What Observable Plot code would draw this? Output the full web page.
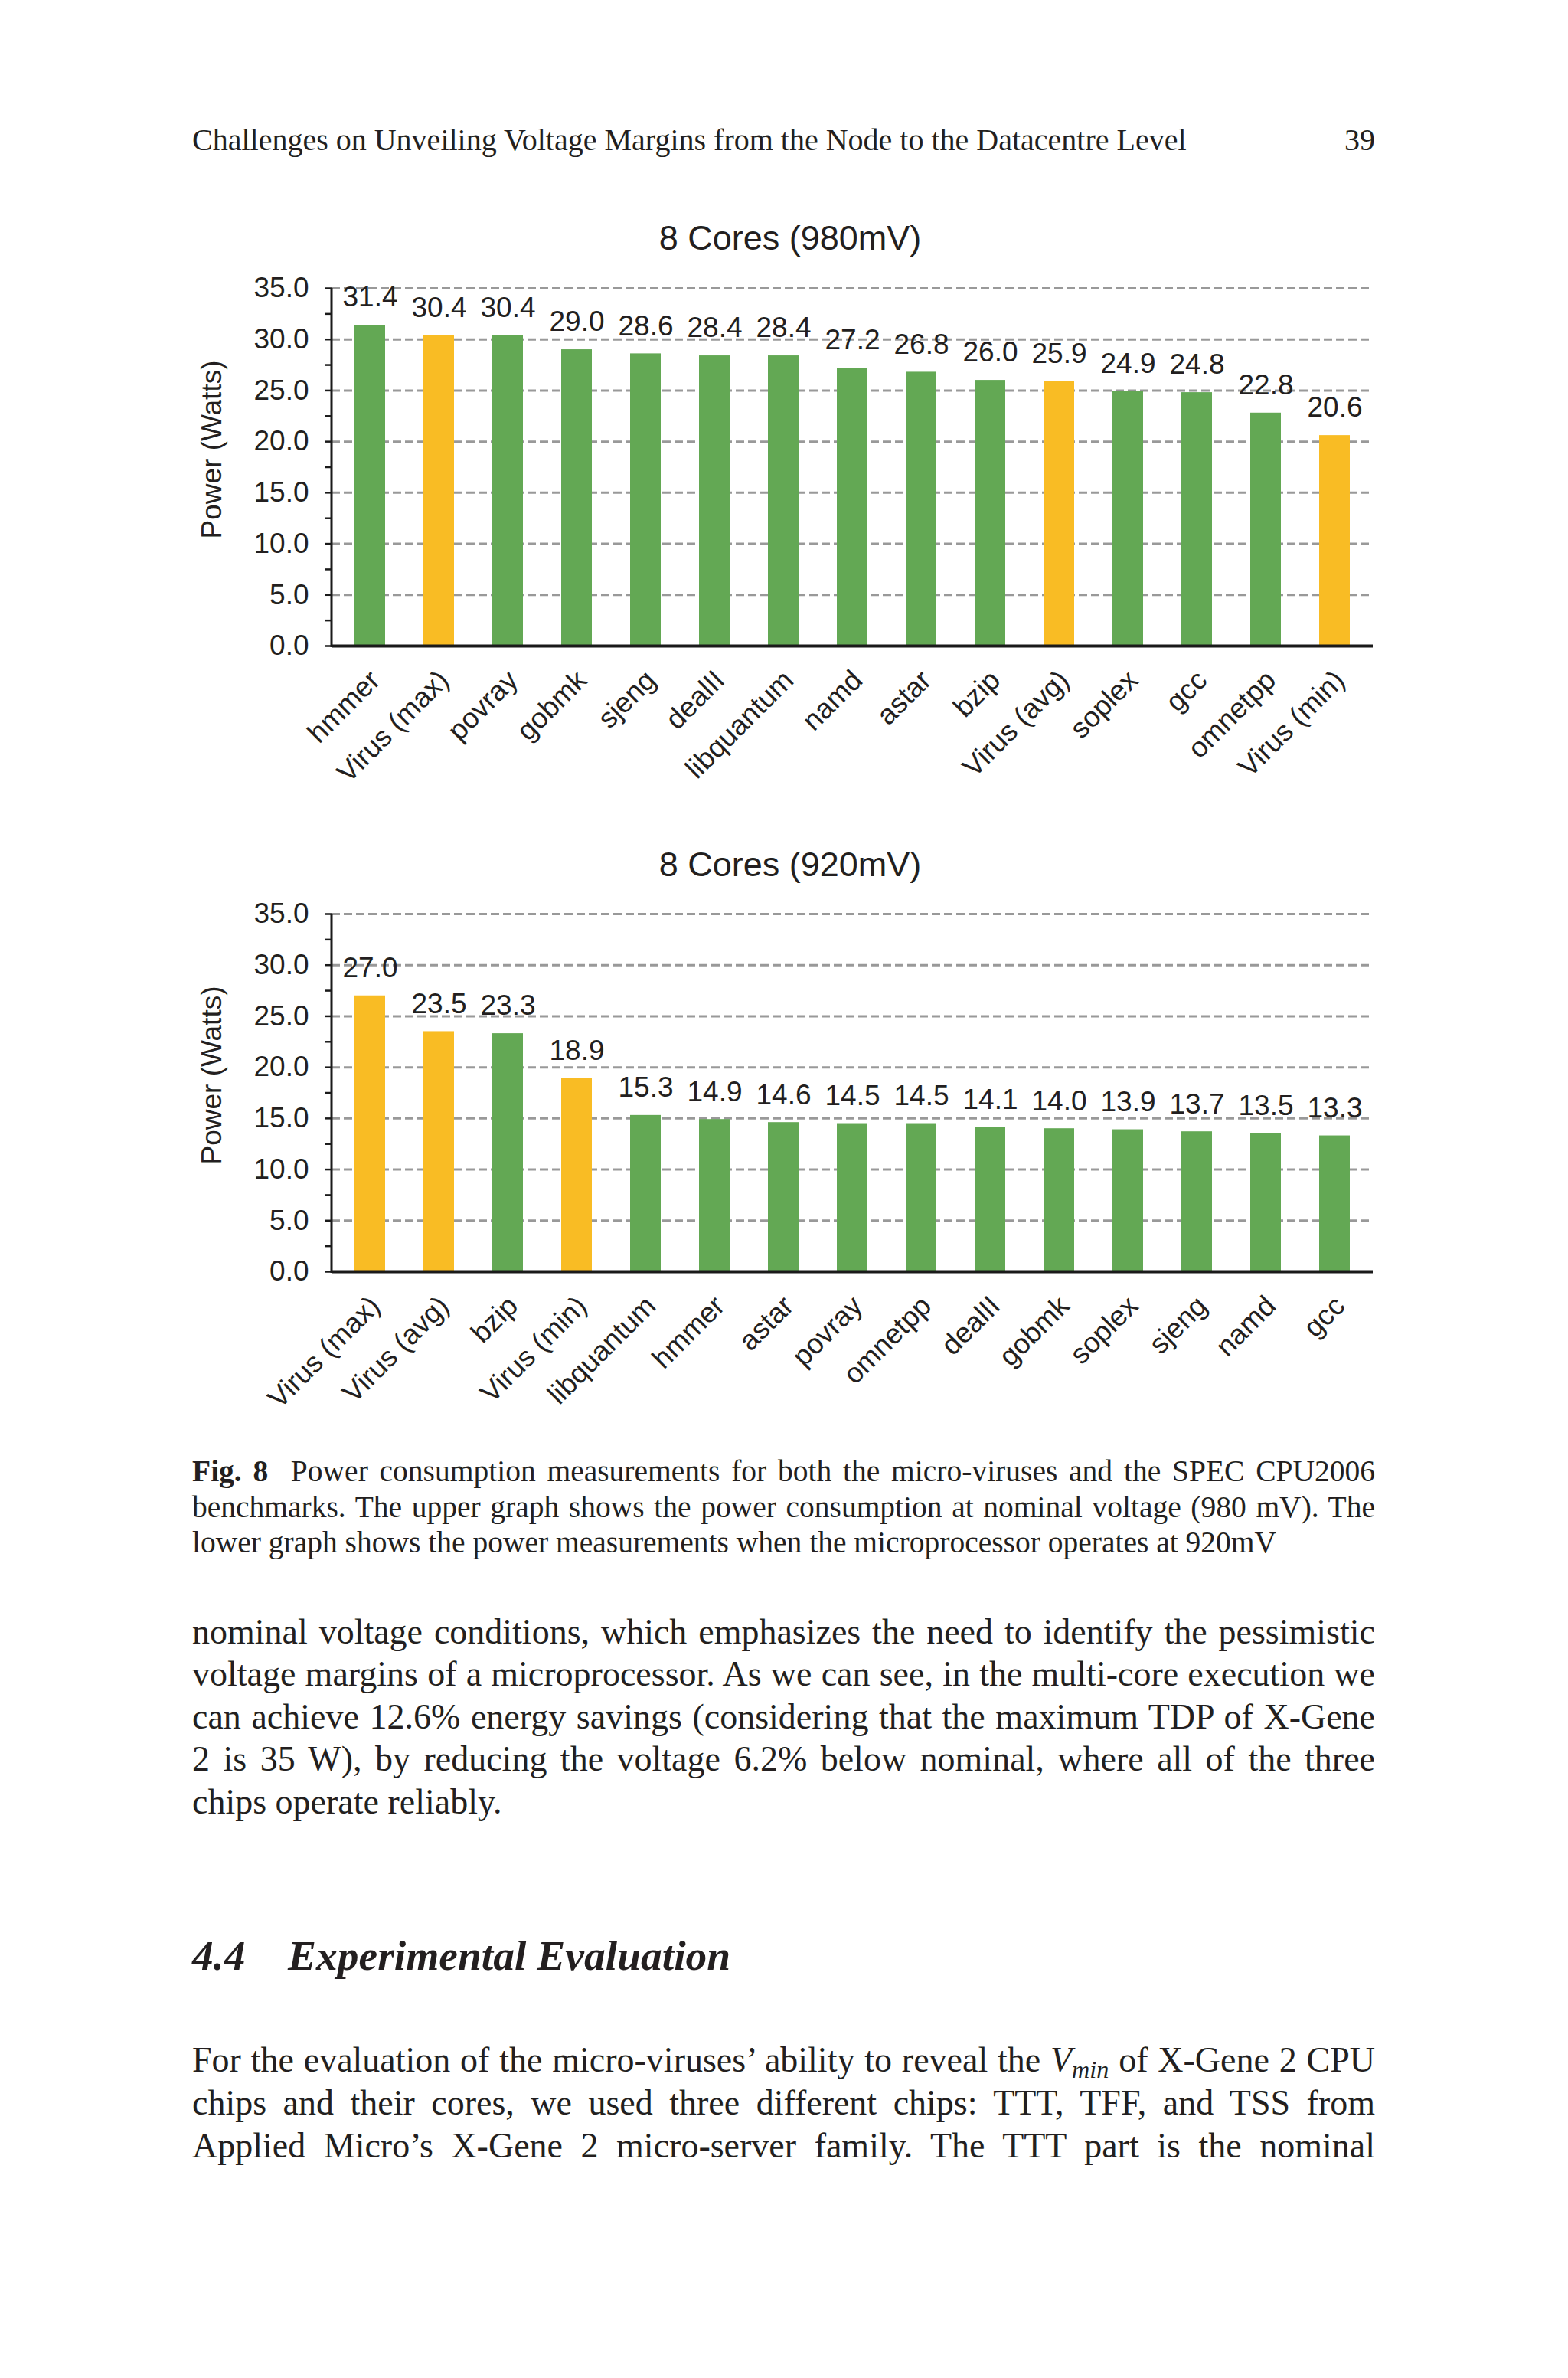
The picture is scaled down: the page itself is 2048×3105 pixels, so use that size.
<!DOCTYPE html>
<html>
<head>
<meta charset="utf-8">
<script src="https://cdn.jsdelivr.net/npm/d3@7"></script>
<script src="https://cdn.jsdelivr.net/npm/@observablehq/plot@0.6"></script>
<style>
  html, body { margin: 0; padding: 0; background: #fff; }
  #page { position: relative; width: 2048px; height: 3105px; background: #fff; overflow: hidden; color: #231f20; }
  .ln { position: absolute; white-space: normal; }
  .serif { font-family: "Liberation Serif", "Times New Roman", serif; }
  .sans { font-family: "Liberation Sans", Arial, sans-serif; }
  .just { text-align: justify; text-align-last: justify; }
  svg { position: absolute; left: 0; overflow: visible; }
</style>
</head>
<body>
<div id="page"></div>
<script>
// ---------- data ----------
const cats980 = ["hmmer", "Virus (max)", "povray", "gobmk", "sjeng", "dealII", "libquantum", "namd", "astar", "bzip", "Virus (avg)", "soplex", "gcc", "omnetpp", "Virus (min)"];
const vals980 = [31.4, 30.4, 30.4, 29.0, 28.6, 28.4, 28.4, 27.2, 26.8, 26.0, 25.9, 24.9, 24.8, 22.8, 20.6];
const cats920 = ["Virus (max)", "Virus (avg)", "bzip", "Virus (min)", "libquantum", "hmmer", "astar", "povray", "omnetpp", "dealII", "gobmk", "soplex", "sjeng", "namd", "gcc"];
const vals920 = [27.0, 23.5, 23.3, 18.9, 15.3, 14.9, 14.6, 14.5, 14.5, 14.1, 14.0, 13.9, 13.7, 13.5, 13.3];
const yTicks = [0, 2.5, 5, 7.5, 10, 12.5, 15, 17.5, 20, 22.5, 25, 27.5, 30, 32.5, 35];
const gridValues = [5, 10, 15, 20, 25, 30, 35];
const title980 = "8 Cores (980mV)";
const title920 = "8 Cores (920mV)";
const yLabel = "Power (Watts)";

const GREEN = "#63a854", YELLOW = "#f9bc24", INK = "#231f20";
const page = document.getElementById("page");

// ---------- text placement helpers ----------
function placeLine(html, o) {
  const size = o.size, lh = Math.round(size * 1.2);
  const asc = o.sans ? 0.905 : 0.891, desc = o.sans ? 0.212 : 0.216;
  const top = o.baseline - ((lh - (asc + desc) * size) / 2 + asc * size);
  const d = document.createElement("div");
  d.className = "ln " + (o.sans ? "sans" : "serif") + (o.justify ? " just" : "");
  d.style.fontSize = size + "px";
  d.style.lineHeight = lh + "px";
  d.style.top = top + "px";
  if (o.center != null) { d.style.left = (o.center - 600) + "px"; d.style.width = "1200px"; d.style.textAlign = "center"; }
  else if (o.right != null) { d.style.left = (o.right - 300) + "px"; d.style.width = "300px"; d.style.textAlign = "right"; }
  else { d.style.left = o.left + "px"; if (o.width) d.style.width = o.width + "px"; }
  if (o.weight) d.style.fontWeight = o.weight;
  if (o.italic) d.style.fontStyle = "italic";
  d.innerHTML = html;
  page.appendChild(d);
}

const L = 251, W = 1545;
// running header
placeLine("Challenges on Unveiling Voltage Margins from the Node to the Datacentre Level", {left: L, baseline: 196, size: 40});
placeLine("39", {right: L + W, baseline: 196, size: 40});

// chart titles
placeLine(title980, {center: 1032, baseline: 327, size: 45, sans: true});
placeLine(title920, {center: 1032, baseline: 1145, size: 45, sans: true});

// caption
const capLines = [
  "<b>Fig. 8</b>&nbsp; Power consumption measurements for both the micro-viruses and the SPEC CPU2006",
  "benchmarks. The upper graph shows the power consumption at nominal voltage (980 mV). The",
  "lower graph shows the power measurements when the microprocessor operates at 920mV"
];
const capBase = [1935, 1982, 2028];
capLines.forEach((t, i) => placeLine(t, {left: L, width: W, baseline: capBase[i], size: 39.5, justify: i < 2}));

// body paragraph 1
const p1 = [
  "nominal voltage conditions, which emphasizes the need to identify the pessimistic",
  "voltage margins of a microprocessor. As we can see, in the multi-core execution we",
  "can achieve 12.6% energy savings (considering that the maximum TDP of X-Gene",
  "2 is 35 W), by reducing the voltage 6.2% below nominal, where all of the three",
  "chips operate reliably."
];
p1.forEach((t, i) => placeLine(t, {left: L, width: W, baseline: 2146 + i * 55.5, size: 46, justify: i < 4}));

// section heading
placeLine("4.4", {left: L, baseline: 2572, size: 55.5, weight: "bold", italic: true});
placeLine("Experimental Evaluation", {left: 376, baseline: 2572, size: 55.5, weight: "bold", italic: true});

// body paragraph 2
const p2 = [
  "For the evaluation of the micro-viruses’ ability to reveal the <i>V</i><sub style=\"font-size:0.7em;line-height:0;vertical-align:-0.25em\"><i>min</i></sub> of X-Gene 2 CPU",
  "chips and their cores, we used three different chips: TTT, TFF, and TSS from",
  "Applied Micro’s X-Gene 2 micro-server family. The TTT part is the nominal"
];
p2.forEach((t, i) => placeLine(t, {left: L, width: W, baseline: 2705 + i * 56, size: 46, justify: true}));

// ---------- charts ----------
function chart(cats, vals, top) {
  const data = cats.map((c, i) => ({name: c, value: vals[i], virus: c.startsWith("Virus")}));
  const fs = 37;
  const yAxisLine = (index, scales, values, dims) => {
    const g = document.createElementNS("http://www.w3.org/2000/svg", "line");
    g.setAttribute("x1", dims.marginLeft); g.setAttribute("x2", dims.marginLeft);
    g.setAttribute("y1", scales.y(35)); g.setAttribute("y2", scales.y(0) + 2);
    g.setAttribute("stroke", "#1a1a1a"); g.setAttribute("stroke-width", 3);
    return g;
  };
  const svg = Plot.plot({
    width: 2048,
    height: 703,
    marginLeft: 433,
    marginRight: 255,
    marginTop: 36,
    marginBottom: 200,
    style: {fontFamily: "'Liberation Sans', Arial, sans-serif", background: "transparent", color: INK, overflow: "visible"},
    x: {domain: cats, paddingInner: 0.56, paddingOuter: 0.28, axis: null},
    y: {domain: [0, 35], axis: null},
    marks: [
      Plot.ruleY(gridValues, {stroke: "#999999", strokeWidth: 3, strokeDasharray: "11,5"}),
      Plot.barY(data, {x: "name", y: "value", fill: d => d.virus ? YELLOW : GREEN}),
      Plot.ruleY([0], {stroke: "#1a1a1a", strokeWidth: 4}),
      yAxisLine,
      Plot.axisY({ticks: yTicks, tickSize: 9, tickPadding: 21, strokeWidth: 2.5, stroke: "#1a1a1a",
        tickFormat: d => d % 5 === 0 ? d.toFixed(1) : "", fontSize: fs, fill: INK, label: null}),
      Plot.text(data, {x: "name", y: "value", text: d => d.value.toFixed(1), dy: -36, fontSize: fs, fill: INK}),
      Plot.text(data, {x: "name", text: "name", frameAnchor: "bottom", rotate: -45, textAnchor: "end", dx: 15, dy: 47, fontSize: fs, fill: INK}),
      Plot.text([yLabel], {frameAnchor: "left", textAnchor: "middle", rotate: -90, dx: -156, dy: -23, fontSize: fs, fill: INK})
    ]
  });
  svg.style.top = top + "px";
  page.appendChild(svg);
}
chart(cats980, vals980, 340);
chart(cats920, vals920, 1157);
</script>
</body>
</html>
